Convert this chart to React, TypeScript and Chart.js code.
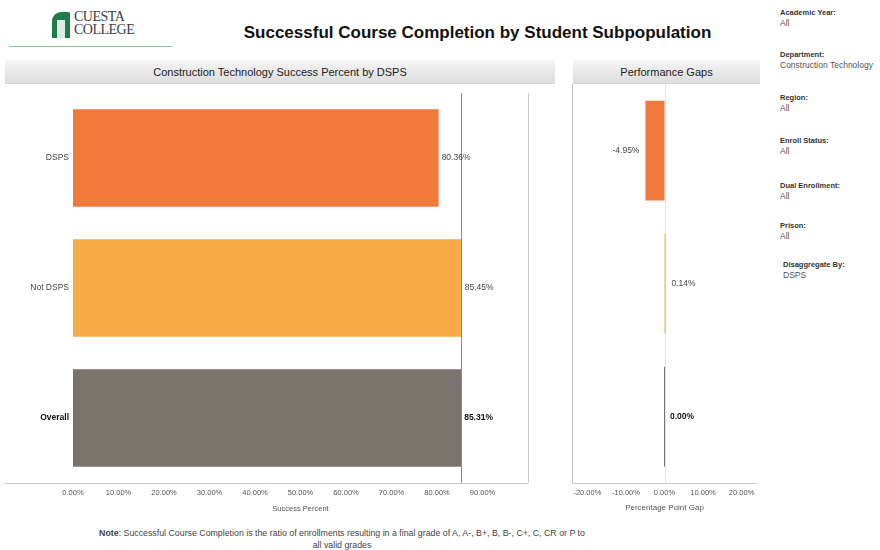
import React, { useEffect, useRef } from 'react';
import { Chart, registerables } from 'chart.js';

Chart.register(...registerables);

const categories = ['DSPS', 'Not DSPS', 'Overall'];
const successPercent = [80.36, 85.45, 85.31];
const gapPercent = [-4.95, 0.14, 0.0];
const overallReference = 85.31;
const successTicks = [0, 10, 20, 30, 40, 50, 60, 70, 80, 90];
const gapTicks = [-20, -10, 0, 10, 20];
const barColors = ['#F07A3E', '#F9AA46', '#7A736C'];
const filterLabels = ['Academic Year:', 'Department:', 'Region:', 'Enroll Status:', 'Dual Enrollment:', 'Prison:', 'Disaggregate By:'];
const filterValues = ['All', 'Construction Technology', 'All', 'All', 'All', 'All', 'DSPS'];
const filterTops = [8, 50, 93, 136, 181, 221, 260];

const FONT = '"Liberation Sans", Arial, Helvetica, sans-serif';
const fmt = (v: number) => v.toFixed(2) + '%';

function makeLabelPlugin(id: string, negOffset: number, posOffset: number) {
  return {
    id,
    afterDatasetsDraw(chart: any) {
      const ctx = chart.ctx;
      const meta = chart.getDatasetMeta(0);
      const data = chart.data.datasets[0].data as number[];
      ctx.save();
      ctx.textBaseline = 'middle';
      meta.data.forEach((bar: any, i: number) => {
        const v = data[i];
        const bold = i === categories.length - 1;
        ctx.font = (bold ? 'bold ' : '') + '8.5px ' + FONT;
        ctx.fillStyle = bold ? '#111' : '#444';
        if (v < 0) {
          ctx.textAlign = 'right';
          ctx.fillText(fmt(v), bar.x - negOffset, bar.y);
        } else {
          ctx.textAlign = 'left';
          ctx.fillText(fmt(v), bar.x + posOffset, bar.y);
        }
      });
      ctx.restore();
    },
  };
}

function boxPlugin(id: string, leftLine: boolean, refValue: number | null, zeroLine: boolean) {
  return {
    id,
    beforeDatasetsDraw(chart: any) {
      const { ctx, chartArea } = chart;
      const xs = chart.scales.x;
      ctx.save();
      ctx.lineWidth = 1;
      if (zeroLine) {
        const zx = Math.round(xs.getPixelForValue(0)) + 0.5;
        ctx.strokeStyle = '#e2e2e2';
        ctx.beginPath();
        ctx.moveTo(zx, chartArea.top);
        ctx.lineTo(zx, chartArea.bottom);
        ctx.stroke();
      }
      ctx.restore();
    },
    afterDatasetsDraw(chart: any) {
      const { ctx, chartArea } = chart;
      const xs = chart.scales.x;
      ctx.save();
      ctx.lineWidth = 1;
      ctx.strokeStyle = '#c8c8c8';
      const b = Math.round(chartArea.bottom) + 0.5;
      ctx.beginPath();
      ctx.moveTo(leftLine ? chartArea.left : 0, b);
      ctx.lineTo(chartArea.right, b);
      ctx.stroke();
      ctx.beginPath();
      if (leftLine) {
        const l = Math.round(chartArea.left) + 0.5;
        ctx.moveTo(l, chartArea.top);
        ctx.lineTo(l, chartArea.bottom);
      } else {
        const r = Math.round(chartArea.right) + 0.5;
        ctx.moveTo(r, chartArea.top);
        ctx.lineTo(r, chartArea.bottom);
      }
      ctx.stroke();
      if (refValue !== null) {
        const rx = Math.round(xs.getPixelForValue(refValue)) + 0.5;
        ctx.strokeStyle = '#8a8a8a';
        ctx.beginPath();
        ctx.moveTo(rx, chartArea.top);
        ctx.lineTo(rx, chartArea.bottom);
        ctx.stroke();
      }
      ctx.restore();
    },
  };
}

const xTickOpts = {
  callback: (v: any) => fmt(Number(v)),
  font: { size: 7.5, family: FONT },
  color: '#555',
  maxRotation: 0,
  autoSkip: false,
  padding: 5,
};

const CANVAS_TOP = 84;
const CANVAS_H = 431;

function SuccessChart() {
  const ref = useRef<HTMLCanvasElement>(null);
  useEffect(() => {
    const chart = new Chart(ref.current as HTMLCanvasElement, {
      type: 'bar',
      data: {
        labels: categories,
        datasets: [
          {
            data: successPercent,
            backgroundColor: barColors,
            barPercentage: 0.75,
            categoryPercentage: 1,
          },
        ],
      },
      options: {
        animation: false,
        responsive: false,
        indexAxis: 'y',
        layout: { padding: { left: 0, right: 7, top: 0, bottom: 0 } },
        plugins: { legend: { display: false }, tooltip: { enabled: false } },
        scales: {
          x: {
            min: 0,
            max: 100,
            afterBuildTicks: (s: any) => {
              s.ticks = successTicks.map((v) => ({ value: v }));
            },
            afterFit: (s: any) => {
              s.height = 32;
            },
            grid: { display: false, drawTicks: false },
            border: { display: false },
            ticks: xTickOpts,
            title: {
              display: true,
              text: 'Success Percent',
              font: { size: 7.5, family: FONT },
              color: '#555',
              padding: { top: 0, bottom: 2 },
            },
          },
          y: {
            afterFit: (s: any) => {
              s.width = 68;
            },
            grid: { display: false, drawTicks: false },
            border: { display: false },
            ticks: {
              font: (c: any) => ({ size: 8.5, family: FONT, weight: c.index === 2 ? 'bold' : 'normal' }),
              color: (c: any) => (c.index === 2 ? '#111' : '#444'),
              padding: 4,
            },
          },
        },
      } as any,
      plugins: [boxPlugin('box1', false, overallReference, false), makeLabelPlugin('lbl1', 6, 3)],
    });
    return () => chart.destroy();
  }, []);
  return <canvas ref={ref} width={530} height={CANVAS_H} style={{ position: 'absolute', left: 5, top: CANVAS_TOP, width: 530, height: CANVAS_H }} />;
}

function GapChart() {
  const ref = useRef<HTMLCanvasElement>(null);
  useEffect(() => {
    const chart = new Chart(ref.current as HTMLCanvasElement, {
      type: 'bar',
      data: {
        labels: categories,
        datasets: [
          {
            data: gapPercent,
            backgroundColor: barColors,
            barPercentage: 0.75,
            categoryPercentage: 1,
            minBarLength: 1,
          },
        ],
      },
      options: {
        animation: false,
        responsive: false,
        indexAxis: 'y',
        layout: { padding: { left: 12, right: 3, top: 0, bottom: 0 } },
        plugins: { legend: { display: false }, tooltip: { enabled: false } },
        scales: {
          x: {
            min: -24,
            max: 24,
            afterBuildTicks: (s: any) => {
              s.ticks = gapTicks.map((v) => ({ value: v }));
            },
            afterFit: (s: any) => {
              s.height = 32;
            },
            grid: { display: false, drawTicks: false },
            border: { display: false },
            ticks: xTickOpts,
            title: {
              display: true,
              text: 'Percentage Point Gap',
              font: { size: 8, family: FONT },
              color: '#555',
              padding: { top: 0, bottom: 2 },
            },
          },
          y: { display: false },
        },
      } as any,
      plugins: [boxPlugin('box2', true, null, true), makeLabelPlugin('lbl2', 6, 6)],
    });
    return () => chart.destroy();
  }, []);
  return <canvas ref={ref} width={200} height={CANVAS_H} style={{ position: 'absolute', left: 560, top: CANVAS_TOP, width: 200, height: CANVAS_H }} />;
}

const headerStyle = (left: number, width: number): React.CSSProperties => ({
  position: 'absolute',
  left,
  top: 60,
  width,
  height: 23,
  background: 'linear-gradient(to bottom, #f6f6f6 0%, #e6e6e6 60%, #dddddd 100%)',
  borderBottom: '1px solid #d4d4d4',
  textAlign: 'center',
  lineHeight: '24px',
  fontSize: 11,
  color: '#222',
  fontFamily: FONT,
});

export default function App() {
  return (
    <div style={{ position: 'absolute', left: 0, top: 0, width: 880, height: 550, background: '#fff', fontFamily: FONT }}>
      {/* Logo */}
      <div style={{ position: 'absolute', left: 52, top: 12, width: 18, height: 26, background: '#1f7a4d', borderTopLeftRadius: 9, borderTopRightRadius: 2 }} />
      <div style={{ position: 'absolute', left: 57, top: 20, width: 8, height: 18, background: '#fff', opacity: 0.85 }} />
      <div style={{ position: 'absolute', left: 74, top: 10, fontFamily: '"Liberation Serif", "DejaVu Serif", serif', fontSize: 14, lineHeight: '13px', color: '#3d3d3d', letterSpacing: -0.5 }}>
        CUESTA
        <br />
        COLLEGE
      </div>
      <div style={{ position: 'absolute', left: 9, top: 46, width: 163, height: 1, background: '#8cc5a6' }} />

      {/* Title */}
      <div style={{ position: 'absolute', left: 0, top: 23, width: 955, textAlign: 'center', fontSize: 17, fontWeight: 'bold', color: '#111' }}>
        Successful Course Completion by Student Subpopulation
      </div>

      {/* Panel headers */}
      <div style={headerStyle(5, 550)}>Construction Technology Success Percent by DSPS</div>
      <div style={headerStyle(573, 187)}>Performance Gaps</div>

      <SuccessChart />
      <GapChart />

      {/* Note */}
      <div style={{ position: 'absolute', left: 22, top: 527, width: 640, textAlign: 'center', fontSize: 8.8, lineHeight: '12px', color: '#444' }}>
        <b>Note</b>: Successful Course Completion is the ratio of enrollments resulting in a final grade of A, A-, B+, B, B-, C+, C, CR or P to
        <br />
        all valid grades
      </div>

      {/* Filters */}
      {filterLabels.map((lab, i) => (
        <div key={lab} style={{ position: 'absolute', left: i === 6 ? 783 : 780, top: filterTops[i], lineHeight: '10px', color: '#333', whiteSpace: 'nowrap' }}>
          <div style={{ fontWeight: 'bold', fontSize: 7.5 }}>{lab}</div>
          <div style={{ fontSize: 8.5, color: '#555' }}>{filterValues[i]}</div>
        </div>
      ))}
    </div>
  );
}
